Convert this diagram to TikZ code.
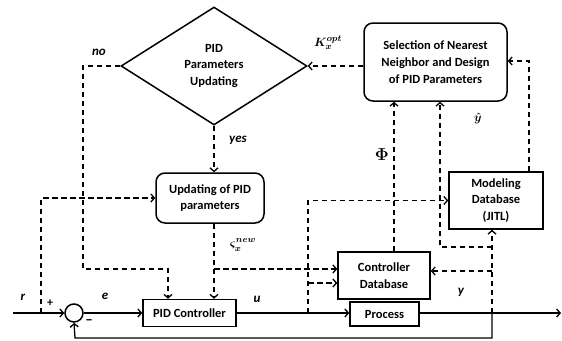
\documentclass[tikz,border=0pt]{standalone}
\usepackage{amsmath,amssymb}
\usepackage{fontspec}
\setmainfont{Carlito}
\usetikzlibrary{shapes.geometric, arrows.meta}
\tikzset{
  block/.style={rectangle, draw, line width=1.5pt, align=center, inner sep=0pt},
  roundblock/.style={block, rounded corners=9pt},
  decision/.style={diamond, draw, line width=1.5pt, align=center, inner sep=0pt},
  sumnode/.style={circle, draw, line width=1.5pt, minimum size=18pt, inner sep=0pt},
  arrow/.style={->, >={Straight Barb[length=3.5pt,width=8pt]}, line width=1.3pt},
  dasharrow/.style={arrow, dash pattern=on 5.5pt off 3.5pt},
  sig/.style={font=\fontsize{13}{14}\selectfont\bfseries\itshape},
  mathlbl/.style={font=\fontsize{13}{14}\selectfont, inner sep=0pt},
}
\begin{document}
\begin{tikzpicture}[x=1pt, y=-1pt, font=\fontsize{12.5}{16.8}\selectfont\bfseries]
  \useasboundingbox (0,0) rectangle (562,340);
  \node[decision, minimum width=186pt, minimum height=118pt] (diam) at (214,66) {PID\\Parameters\\Updating};
  \node[roundblock, minimum width=143pt, minimum height=78pt] (sel) at (435.5,62) {Selection of Nearest\\Neighbor and Design\\of PID Parameters};
  \node[roundblock, minimum width=108pt, minimum height=50pt] (upd) at (210,198) {Updating of PID\\parameters};
  \node[block, minimum width=94pt, minimum height=57pt] (mod) at (496,200.5) {Modeling\\Database\\(JITL)};
  \node[block, minimum width=92pt, minimum height=47pt] (cdb) at (384,275.5) {Controller\\Database};
  \node[block, minimum width=93pt, minimum height=27pt] (pid) at (189.5,313) {PID Controller};
  \node[block, minimum width=69pt, minimum height=24pt] (proc) at (384.5,314) {Process};
  \node[sumnode] (sum) at (74,313) {};

  \coordinate (in) at (13,313);
  \coordinate (out) at (561,313);
  \coordinate (rtap) at (41,313);
  \coordinate (utap) at (308,313);
  \coordinate (ucdb) at (308,283);
  \coordinate (ytap) at (492,313);
  \coordinate (ysel) at (492,247);
  \coordinate (ycdb) at (492,271);
  \coordinate (fb) at (75,338);
  \coordinate (sbr) at (214,269);

  \draw[arrow] (in) -- (sum.west);
  \draw[arrow] (sum.east) -- (pid.west);
  \draw[arrow] (pid.east) -- (pid.east -| proc.west);
  \draw[arrow] (proc.east |- out) -- (out);
  \draw[arrow] (ytap) |- (fb) -- (sum.south);

  \draw[dasharrow] (diam.west) -| (83,269) -| ([xshift=-21.5pt]pid.north);
  \draw[dasharrow] (diam.south) -- (diam.south |- upd.north);
  \draw[dasharrow] (diam.south |- upd.south) -- (diam.south |- pid.north);
  \draw[dasharrow] (sbr) -- (sbr -| cdb.west);
  \draw[dasharrow] (rtap) |- (upd.west);
  \draw[dasharrow] (utap) |- (mod.west);
  \draw[dasharrow] (ucdb) -- (ucdb -| cdb.west);
  \draw[dasharrow] ([xshift=10pt]cdb.north) -- ([xshift=10pt]cdb.north |- sel.south);
  \draw[dasharrow] (ytap) -- (ytap |- mod.south);
  \draw[dasharrow] (ysel) -| ([xshift=4.5pt]sel.south);
  \draw[dasharrow] (ycdb) -- (ycdb -| cdb.east);
  \draw[dasharrow] ([xshift=33pt]mod.north) |- ([yshift=1pt]sel.east);
  \draw[dasharrow] (sel.west |- diam.east) -- (diam.east);

  \node[sig] (lno) at (99,52) {no};
  \node[sig] (lyes) at (238,140) {yes};
  \node[mathlbl] (lk) at (328,43) {$\boldsymbol{K_x^{opt}}$};
  \node[mathlbl] (lyhat) at (478,118) {$\boldsymbol{\hat{y}}$};
  \node[mathlbl, font=\fontsize{19}{20}\selectfont] (lphi) at (382,155) {$\boldsymbol{\Phi}$};
  \node[mathlbl] (lsig) at (243,245) {$\boldsymbol{\varsigma_x^{new}}$};
  \node[sig] (lr) at (23,297) {r};
  \node[font=\fontsize{12}{12}\selectfont\bfseries] (lplus) at (50,303) {+};
  \node[font=\fontsize{15}{15}\selectfont\bfseries] (lminus) at (89,322) {--};
  \node[sig] (le) at (105,296) {e};
  \node[sig] (lu) at (257,299) {u};
  \node[sig] (ly) at (461,292) {y};
\end{tikzpicture}
\end{document}
